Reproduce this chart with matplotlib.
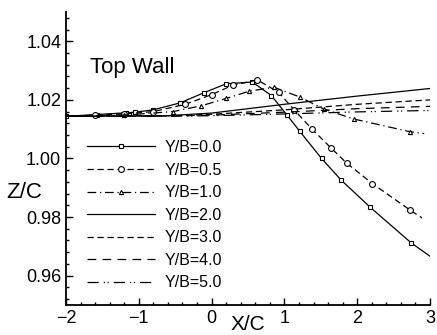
import matplotlib
matplotlib.use('Agg')
import matplotlib.pyplot as plt
from matplotlib.ticker import MultipleLocator

plt.rcParams['font.family'] = ['Liberation Sans', 'DejaVu Sans']

# Y/B = 0.0
x00 = [-2.0, -1.58, -1.17, -1.05, -0.80, -0.43, -0.11, 0.20, 0.56, 0.82, 1.03, 1.21, 1.51, 1.78, 2.18, 2.74, 3.0]
z00 = [1.0144, 1.0150, 1.0156, 1.0158, 1.0166, 1.0190, 1.0224, 1.0255, 1.0261, 1.0215, 1.0150, 1.0093, 1.0000, 0.9926, 0.9833, 0.9712, 0.9666]
# Y/B = 0.5
x05 = [-2.0, -1.6, -1.2, -0.8, -0.36, 0.0, 0.29, 0.63, 0.92, 1.13, 1.38, 1.64, 1.86, 2.21, 2.73, 2.89]
z05 = [1.0144, 1.0148, 1.0152, 1.0160, 1.0185, 1.0218, 1.0250, 1.0268, 1.0226, 1.0167, 1.0100, 1.0036, 0.9983, 0.9914, 0.9823, 0.9797]
# Y/B = 1.0
x10 = [-2.0, -1.2, -0.53, -0.14, 0.20, 0.52, 0.86, 1.21, 1.54, 1.95, 2.73, 2.92]
z10 = [1.0144, 1.0148, 1.0160, 1.0180, 1.0205, 1.0230, 1.0243, 1.0210, 1.0169, 1.0135, 1.0091, 1.0085]
# Y/B = 2.0 .. 5.0
x_far = [-2.0, -0.6, 0.0, 1.0, 2.0, 3.0]
z20 = [1.0144, 1.0146, 1.0155, 1.0185, 1.0213, 1.0239]
z30 = [1.0144, 1.0146, 1.0151, 1.0166, 1.0185, 1.0200]
z40 = [1.0144, 1.0145, 1.0148, 1.0158, 1.0170, 1.0178]
z50 = [1.0144, 1.0144, 1.0146, 1.0152, 1.0159, 1.0164]

labels = ['Y/B=0.0', 'Y/B=0.5', 'Y/B=1.0', 'Y/B=2.0', 'Y/B=3.0', 'Y/B=4.0', 'Y/B=5.0']

fig = plt.figure(figsize=(4.37, 3.35), dpi=100)
ax = fig.add_axes([0.151, 0.09, 0.833, 0.874])

lw = 0.9
ax.plot(x00, z00, '-', color='k', lw=lw, marker='s', ms=3.2, mfc='white', mew=0.8,
        markevery=list(range(len(x00) - 1)), label=labels[0])
ax.plot(x05, z05, color='k', lw=lw, dashes=(5, 3), marker='o', ms=4.2, mfc='white', mew=0.8,
        markevery=list(range(1, len(x05) - 1)), label=labels[1])
ax.plot(x10, z10, color='k', lw=lw, dashes=(7, 3, 1, 3), marker='^', ms=3, mfc='white', mew=0.8,
        markevery=list(range(1, len(x10) - 1)), label=labels[2])
ax.plot(x_far, z20, '-', color='k', lw=lw, label=labels[3])
ax.plot(x_far, z30, color='k', lw=lw, dashes=(5, 3), label=labels[4])
ax.plot(x_far, z40, color='k', lw=lw, dashes=(7, 5), label=labels[5])
ax.plot(x_far, z50, color='k', lw=lw, dashes=(9, 4, 1, 2, 1, 4), label=labels[6])

ax.set_xlim(-2, 3)
ax.set_ylim(0.95, 1.05)
ax.set_yticks([0.96, 0.98, 1.00, 1.02, 1.04])
ax.set_yticklabels(['0.96', '0.98', '1.00', '1.02', '1.04'])
ax.xaxis.set_minor_locator(MultipleLocator(0.2))
ax.yaxis.set_minor_locator(MultipleLocator(0.004))
ax.tick_params(which='both', direction='in', labelsize=13, width=1)
ax.tick_params(which='major', length=5)
ax.tick_params(which='minor', length=2.5)
ax.spines['top'].set_visible(False)
ax.spines['right'].set_visible(False)
ax.spines['left'].set_linewidth(1.3)
ax.spines['bottom'].set_linewidth(1.3)

ax.text(-1.67, 1.0293, 'Top Wall', fontsize=16, va='baseline')
ax.set_ylabel('Z/C', fontsize=16, rotation=0, va='center')
ax.yaxis.set_label_coords(-0.115, 0.385)
ax.set_xlabel('X/C', fontsize=15)
ax.xaxis.set_label_coords(0.5, -0.035)

ax.legend(loc='upper left', bbox_to_anchor=(0.035, 0.59), frameon=False, fontsize=11.5,
          handlelength=4.3, handletextpad=0.6, labelspacing=0.47, borderpad=0)

fig.savefig('out.png', dpi=100)
